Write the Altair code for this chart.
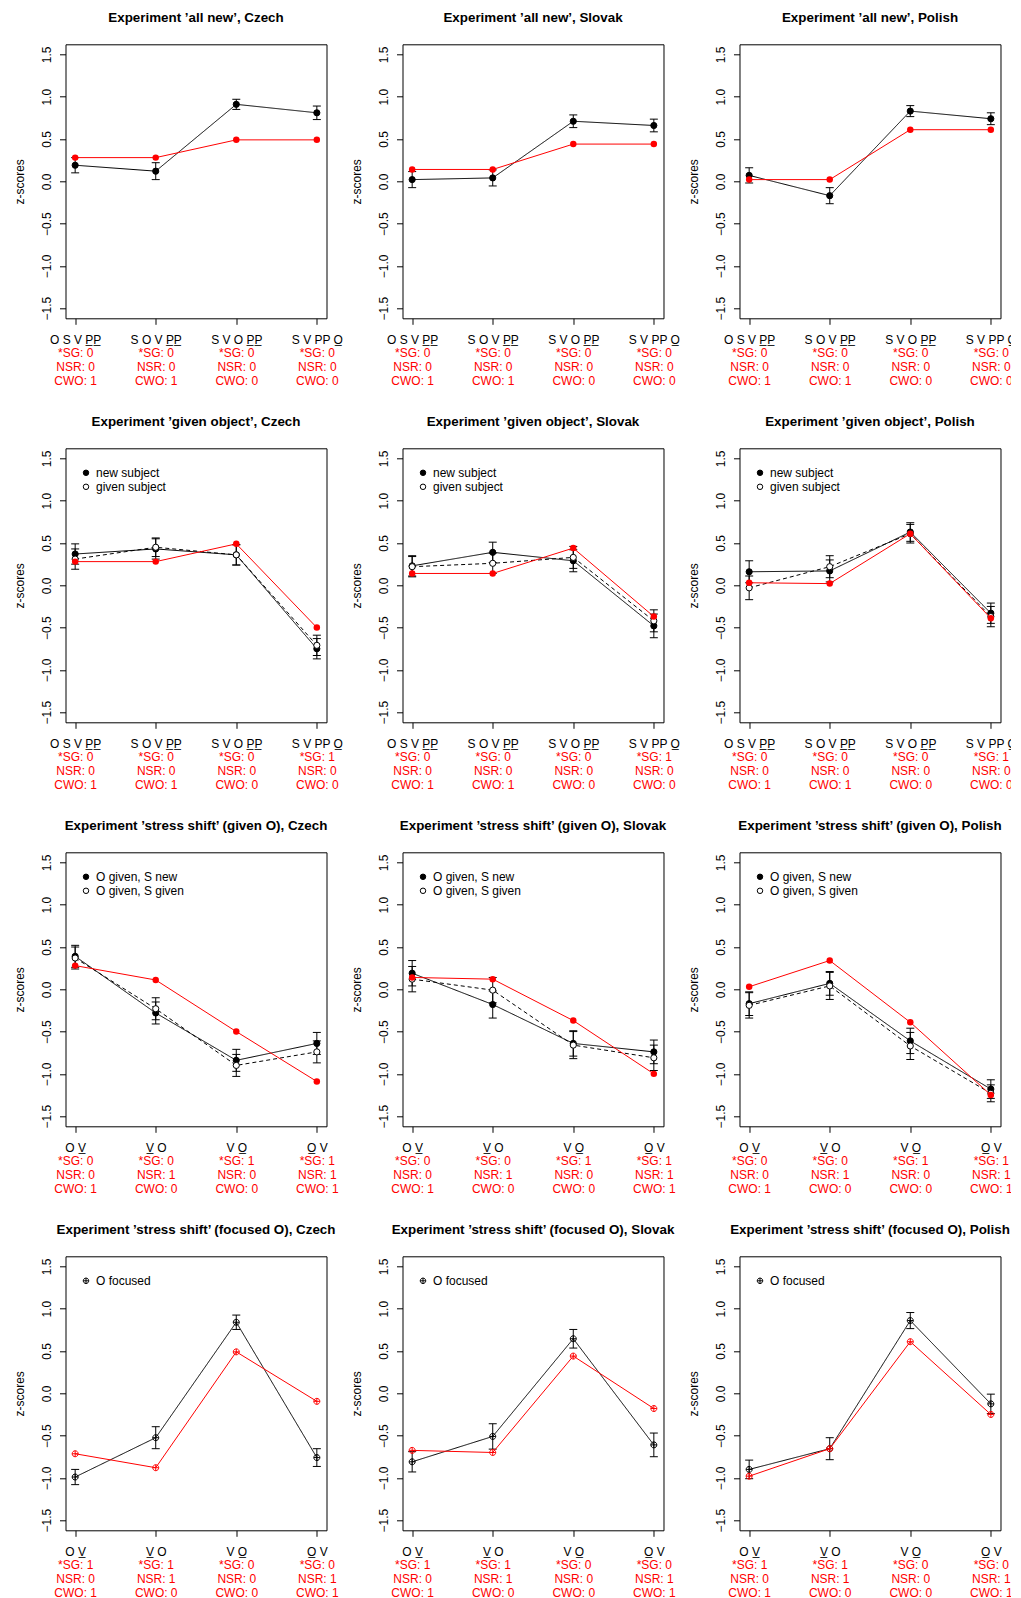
import json
import altair as alt
import pandas as pd

FONT = "Liberation Sans"
OPLUS = "M -1 0 A 1 1 0 1 1 1 0 A 1 1 0 1 1 -1 0 Z M -1 0 L 1 0 M 0 -1 L 0 1"

languages = ["Czech", "Slovak", "Polish"]
experiments = ["’all new’", "’given object’", "’stress shift’ (given O)", "’stress shift’ (focused O)"]
positions = [1, 2, 3, 4]

orders_pp = ["O S V P\u0332P\u0332", "S O V P\u0332P\u0332", "S V O P\u0332P\u0332", "S V PP O\u0332"]
orders_ov = ["O V\u0332", "V\u0332 O", "V O\u0332", "O\u0332 V"]
row_orders = [orders_pp, orders_pp, orders_ov, orders_ov]

sg = [[0, 0, 0, 0], [0, 0, 0, 1], [0, 0, 1, 1], [1, 1, 0, 0]]
nsr = [[0, 0, 0, 0], [0, 0, 0, 0], [0, 1, 0, 1], [0, 1, 0, 1]]
cwo = [[1, 1, 0, 0], [1, 1, 0, 0], [1, 0, 0, 1], [1, 0, 0, 1]]

series_names = [["all new"], ["new subject", "given subject"],
                ["O given, S new", "O given, S given"], ["O focused"]]
show_legend = [False, True, True, True]

# Experiment 'all new'
allnew_obs = {"Czech": [0.19, 0.12, 0.91, 0.81], "Slovak": [0.02, 0.04, 0.71, 0.66], "Polish": [0.07, -0.17, 0.83, 0.74]}
allnew_se = {"Czech": [0.09, 0.10, 0.06, 0.08], "Slovak": [0.095, 0.095, 0.075, 0.075], "Polish": [0.09, 0.095, 0.065, 0.07]}
allnew_pred = {"Czech": [0.28, 0.28, 0.49, 0.49], "Slovak": [0.14, 0.14, 0.44, 0.44], "Polish": [0.02, 0.02, 0.61, 0.61]}

# Experiment 'given object'
givenobj_new = {"Czech": [0.37, 0.43, 0.36, -0.75], "Slovak": [0.23, 0.39, 0.29, -0.48], "Polish": [0.16, 0.17, 0.63, -0.33]}
givenobj_new_se = {"Czech": [0.12, 0.12, 0.12, 0.12], "Slovak": [0.12, 0.12, 0.13, 0.14], "Polish": [0.13, 0.13, 0.11, 0.12]}
givenobj_given = {"Czech": [0.31, 0.45, 0.36, -0.71], "Slovak": [0.22, 0.26, 0.33, -0.42], "Polish": [-0.03, 0.22, 0.61, -0.37]}
givenobj_given_se = {"Czech": [0.12, 0.11, 0.12, 0.12], "Slovak": [0.12, 0.12, 0.13, 0.13], "Polish": [0.14, 0.13, 0.11, 0.12]}
givenobj_pred = {"Czech": [0.28, 0.28, 0.49, -0.50], "Slovak": [0.14, 0.14, 0.44, -0.37], "Polish": [0.03, 0.02, 0.61, -0.39]}

# Experiment 'stress shift' (given O)
ssgiven_new = {"Czech": [0.39, -0.28, -0.84, -0.64], "Slovak": [0.19, -0.18, -0.64, -0.74], "Polish": [-0.17, 0.07, -0.61, -1.18]}
ssgiven_new_se = {"Czech": [0.13, 0.13, 0.13, 0.13], "Slovak": [0.15, 0.16, 0.15, 0.14], "Polish": [0.14, 0.14, 0.15, 0.11]}
ssgiven_given = {"Czech": [0.37, -0.23, -0.90, -0.74], "Slovak": [0.12, -0.01, -0.66, -0.81], "Polish": [-0.19, 0.04, -0.67, -1.23]}
ssgiven_given_se = {"Czech": [0.13, 0.13, 0.13, 0.13], "Slovak": [0.15, 0.15, 0.16, 0.15], "Polish": [0.15, 0.16, 0.16, 0.10]}
ssgiven_pred = {"Czech": [0.28, 0.11, -0.50, -1.09], "Slovak": [0.14, 0.12, -0.37, -1.00], "Polish": [0.03, 0.34, -0.39, -1.25]}

# Experiment 'stress shift' (focused O)
ssfocus_obs = {"Czech": [-0.99, -0.525, 0.84, -0.76], "Slovak": [-0.81, -0.51, 0.645, -0.61], "Polish": [-0.90, -0.655, 0.86, -0.125]}
ssfocus_se = {"Czech": [0.09, 0.13, 0.085, 0.105], "Slovak": [0.12, 0.15, 0.11, 0.14], "Polish": [0.11, 0.13, 0.095, 0.115]}
ssfocus_pred = {"Czech": [-0.715, -0.88, 0.49, -0.095], "Slovak": [-0.675, -0.70, 0.44, -0.18], "Polish": [-0.98, -0.655, 0.61, -0.25]}

observed = [
    [(allnew_obs, allnew_se)],
    [(givenobj_new, givenobj_new_se), (givenobj_given, givenobj_given_se)],
    [(ssgiven_new, ssgiven_new_se), (ssgiven_given, ssgiven_given_se)],
    [(ssfocus_obs, ssfocus_se)],
]
predicted = [allnew_pred, givenobj_pred, ssgiven_pred, ssfocus_pred]

series_dash = [[1, 0], [4, 3]]
point_fill = [["black"], ["black", "white"], ["black", "white"], ["black"]]
point_shape = ["circle", "circle", "circle", OPLUS]

W, H = 261, 274
XDOM = [0.88, 4.12]
YDOM = [-1.62, 1.62]
YTICKS = [-1.5, -1.0, -0.5, 0.0, 0.5, 1.0, 1.5]


def js(a):
    return json.dumps(a, ensure_ascii=False)


AXIS_Y = alt.Axis(
    values=YTICKS, format=".1f", title="z-scores", titleFont=FONT, titleFontSize=12,
    titleFontWeight="normal", titleColor="black", titleAngle=270, titleX=-42, titleY=H / 2,
    titleAlign="center", titleBaseline="alphabetic", grid=False, domain=False,
    tickSize=6, tickColor="black", tickWidth=1, labelAngle=270, labelAlign="center",
    labelBaseline="alphabetic", labelPadding=9, labelFont=FONT, labelFontSize=12,
    labelColor="black", labelOverlap=False, labelFlush=False,
)


def axis_main(expr):
    return alt.Axis(
        values=positions, labelExpr=expr, title=None, grid=False, domain=False, orient="bottom",
        tickSize=6, tickColor="black", tickWidth=1, labelFont=FONT, labelFontSize=12,
        labelColor="black", labelPadding=10, labelBaseline="top", labelAlign="center",
        labelAngle=0, labelFlush=False, labelOverlap=False,
    )


def axis_red(expr):
    return alt.Axis(
        values=positions, labelExpr=expr, title=None, grid=False, domain=False, orient="bottom",
        ticks=False, tickSize=0, labelFont=FONT, labelFontSize=12, labelColor="#FF0000",
        labelPadding=29.5, labelLineHeight=14, labelBaseline="top", labelAlign="center",
        labelAngle=0, labelFlush=False, labelOverlap=False,
    )


def make_panel(r, lang):
    names = series_names[r]
    rows = []
    for k, (means, ses) in enumerate(observed[r]):
        for x, m, s in zip(positions, means[lang], ses[lang]):
            rows.append({"x": x, "series": names[k], "mean": m, "lo": m - s, "hi": m + s})
    obs = pd.DataFrame(rows)
    pred = pd.DataFrame({"x": positions, "pred": predicted[r][lang]})

    xs = alt.Scale(domain=XDOM, nice=False, zero=False)
    ys = alt.Scale(domain=YDOM, nice=False, zero=False)
    labels_main = js(row_orders[r]) + "[datum.value - 1]"
    red = [[f"*SG: {a}", f"NSR: {b}", f"CWO: {d}"] for a, b, d in zip(sg[r], nsr[r], cwo[r])]
    labels_red = js(red) + "[datum.value - 1]"

    xq = alt.X("x:Q", scale=xs, axis=None)
    base = alt.Chart(obs)
    layers = []
    for k, name in enumerate(names):
        ln = base.transform_filter(alt.datum.series == name).mark_line(
            color="black", strokeWidth=1, strokeDash=series_dash[k]
        )
        if k == 0:
            ln = ln.encode(
                x=alt.X("x:Q", scale=xs, axis=axis_main(labels_main)),
                y=alt.Y("mean:Q", scale=ys, axis=AXIS_Y),
            )
        else:
            ln = ln.encode(x=xq, y=alt.Y("mean:Q", scale=ys, axis=None))
        layers.append(ln)
    layers.append(base.mark_rule(color="black", strokeWidth=1).encode(
        x=xq, y=alt.Y("lo:Q", scale=ys, axis=None), y2="hi:Q",
    ))
    for col in ["lo", "hi"]:
        layers.append(base.mark_tick(color="black", orient="horizontal", size=8, thickness=1, opacity=1).encode(
            x=xq, y=alt.Y(f"{col}:Q", scale=ys, axis=None),
        ))

    if show_legend[r]:
        leg = alt.Legend(
            title=None, orient="none", legendX=14.5, legendY=18.5, padding=0, labelFont=FONT,
            labelFontSize=12, labelColor="black", symbolSize=30, symbolStrokeWidth=1,
            symbolStrokeColor="black", symbolType=point_shape[r], rowPadding=2, labelOffset=4,
            symbolOpacity=1,
        )
    else:
        leg = None
    cscale = alt.Scale(domain=names, range=point_fill[r])
    if point_shape[r] == "circle":
        pts = base.mark_point(shape="circle", filled=True, stroke="black", strokeWidth=1, opacity=1, size=38)
    else:
        pts = base.mark_point(shape=OPLUS, filled=False, strokeWidth=1, opacity=1, size=36)
    pts = pts.encode(
        x=xq, y=alt.Y("mean:Q", scale=ys, axis=None),
        color=alt.Color("series:N", scale=cscale, legend=leg),
    )
    layers.append(pts)

    pbase = alt.Chart(pred)
    layers.append(pbase.mark_line(color="#FF0000", strokeWidth=1).encode(
        x=alt.X("x:Q", scale=xs, axis=axis_red(labels_red)),
        y=alt.Y("pred:Q", scale=ys, axis=None),
    ))
    if point_shape[r] == "circle":
        ppts = pbase.mark_point(shape="circle", filled=True, color="#FF0000", size=42, opacity=1)
    else:
        ppts = pbase.mark_point(shape=OPLUS, filled=False, color="#FF0000", size=36, strokeWidth=1, opacity=1)
    layers.append(ppts.encode(x=xq, y=alt.Y("pred:Q", scale=ys, axis=None)))

    return alt.layer(*layers).resolve_axis(x="independent", y="independent").properties(
        width=W, height=H,
        title=alt.TitleParams(
            text=f"Experiment {experiments[r]}, {lang}", font=FONT, fontSize=13.4, fontWeight="bold",
            color="black", anchor="middle", frame="group", offset=20,
        ),
    )


panels = [make_panel(r, lang) for r in range(4) for lang in languages]

chart = alt.concat(
    *panels, columns=3, spacing={"row": 130, "column": 76}, bounds="flush",
    padding={"left": 4.5, "top": 2.3, "right": -6.5, "bottom": 0},
).resolve_scale(color="independent").resolve_legend(color="independent").configure(
    font=FONT, background="white"
).configure_view(stroke="black", strokeWidth=1)

chart.save("out.html", embed_options={"renderer": "svg", "actions": False})
